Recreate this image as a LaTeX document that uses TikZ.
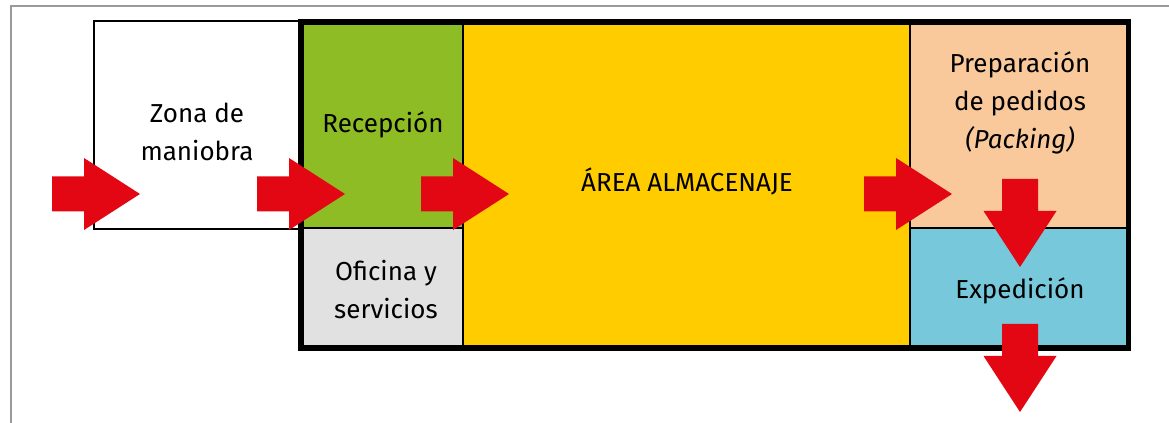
\documentclass[tikz,border=0pt]{standalone}
\usepackage{fontspec}
\setmainfont{Fira Sans}
\usetikzlibrary{positioning}
\definecolor{recepGreen}{HTML}{8DBC24}
\definecolor{almacenYellow}{HTML}{FFCC00}
\definecolor{packPeach}{HTML}{F9C99B}
\definecolor{expedBlue}{HTML}{76C8DA}
\definecolor{oficinaGrey}{HTML}{E1E1E1}
\definecolor{arrowRed}{HTML}{E30613}
\definecolor{frameGrey}{HTML}{9A9A9A}
\tikzset{
  zonetext/.style={inner sep=0pt, align=center, font=\fontsize{19.5}{28.5}\selectfont},
  wallthin/.style={draw=black, line width=2.2pt},
  wallthick/.style={draw=black, line width=3.8pt},
}
% block arrows, tail point given in pixel units
\newcommand{\arrowRight}[2]{\fill[arrowRed] (#1,#2) ++(0,-17.5) -- ++(32,0) -- ++(0,-18.5) -- ++(56,36) -- ++(-56,36) -- ++(0,-18.5) -- ++(-32,0) -- cycle;}
\newcommand{\arrowDown}[2]{\fill[arrowRed] (#1,#2) ++(-18,0) -- ++(0,32) -- ++(-18.5,0) -- ++(36.5,56) -- ++(36.5,-56) -- ++(-18.5,0) -- ++(0,-32) -- cycle;}
\begin{document}
\begin{tikzpicture}[x=0.75pt, y=-0.75pt]
\useasboundingbox (0,0) rectangle (1169,423);
% page frame
\draw[frameGrey, line width=1.1pt] (11,423) -- (11,6) -- (1169,6);
% Zone fills
\fill[recepGreen] (301,22) rectangle (463,228);
\fill[oficinaGrey] (301,228) rectangle (463,348);
\fill[almacenYellow] (463,22) rectangle (910,348);
\fill[packPeach] (910,22) rectangle (1128.5,228);
\fill[expedBlue] (910,228) rectangle (1128.5,348);
% Walls
\draw[wallthin] (94,21) rectangle (301,229);
\draw[wallthin] (463,22) -- (463,348);
\draw[wallthin] (910,22) -- (910,348);
\draw[wallthin] (301,228) -- (463,228);
\draw[wallthin] (910,228) -- (1128.5,228);
\draw[wallthick] (301,22) rectangle (1128.5,348);
% Labels
\node[zonetext] (maniobra) at (197,132) {Zona de\\maniobra};
\node[zonetext] (recepcion) at (383,125) {Recepción};
\node[zonetext] (oficina) at (386,290) {Oficina y\\servicios};
\node[zonetext] (almacenaje) at (687,181) {ÁREA ALMACENAJE};
\node[zonetext] (packing) at (1020,103) {Preparación\\de pedidos\\\textit{(Packing)}};
\node[zonetext] (expedicion) at (1020,291) {Expedición};
% Flow arrows
\arrowRight{52}{194}
\arrowRight{257}{194}
\arrowRight{421}{194}
\arrowRight{864}{194}
\arrowDown{1020}{179}
\arrowDown{1020}{324}
\end{tikzpicture}
\end{document}
